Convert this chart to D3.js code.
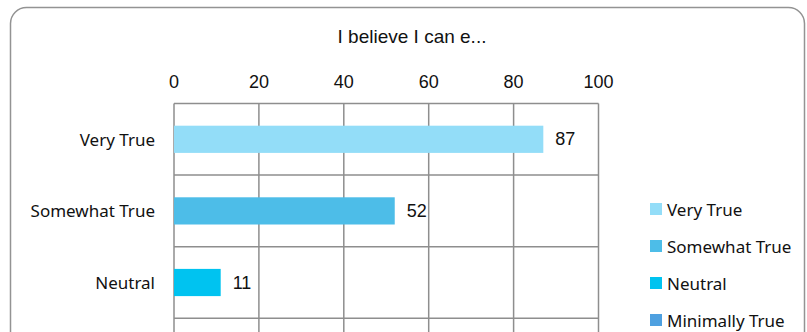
<!DOCTYPE html>
<html>
<head>
<meta charset="utf-8">
<script src="https://cdn.jsdelivr.net/npm/d3@7"></script>
<style>
  html, body { margin: 0; padding: 0; background: #fff; overflow: hidden; }
  svg { display: block; }
</style>
</head>
<body>
<div id="chart"></div>
<script>
// ---- data ----
const title = "I believe I can e...";
const categories = ["Very True", "Somewhat True", "Neutral", "Minimally True", "Not True"];
const values = [87, 52, 11, 4, 2];
const colors = ["#93ddf8", "#4dbde8", "#00c3f0", "#4ea0e0", "#2f75b5"];
const tickValues = [0, 20, 40, 60, 80, 100];

// ---- layout ----
const W = 807, H = 332;
const svg = d3.select("#chart").append("svg").attr("width", W).attr("height", H);

// outer frame
svg.append("rect")
  .attr("x", 10.5).attr("y", 7.5)
  .attr("width", 794).attr("height", 600)
  .attr("rx", 16).attr("ry", 16)
  .attr("fill", "#fff").attr("stroke", "#939393").attr("stroke-width", 1.5);

const x = d3.scaleLinear().domain([0, 100]).range([174, 598.5]);
const plotTop = 103.5;
const step = 71.6;
const y = d3.scaleBand().domain(categories)
  .range([plotTop, plotTop + step * categories.length])
  .paddingInner(0.62).paddingOuter(0.31);
const plotBottom = plotTop + step * categories.length;

const labelFont = "'Noto Sans', 'Open Sans', sans-serif";
const numFont = "'Liberation Sans', Arial, sans-serif";

// title
svg.append("text")
  .attr("x", 412).attr("y", 36)
  .attr("text-anchor", "middle").attr("dominant-baseline", "central")
  .attr("font-family", numFont).attr("font-size", 19).attr("fill", "#111")
  .text(title);

// top axis tick labels
svg.append("g").selectAll("text").data(tickValues).join("text")
  .attr("x", d => x(d)).attr("y", 82)
  .attr("text-anchor", "middle").attr("dominant-baseline", "central")
  .attr("font-family", numFont).attr("font-size", 18).attr("fill", "#111")
  .text(d => d);

// grid
const grid = svg.append("g").attr("stroke", "#8e8e8e").attr("stroke-width", 1.5);
grid.selectAll("line.v").data(tickValues).join("line")
  .attr("class", "v")
  .attr("x1", d => x(d)).attr("x2", d => x(d))
  .attr("y1", plotTop).attr("y2", plotBottom);
const bounds = categories.map((c, i) => plotTop + i * step).concat([plotBottom]);
grid.selectAll("line.h").data(bounds).join("line")
  .attr("class", "h")
  .attr("x1", x(0)).attr("x2", x(100))
  .attr("y1", d => d).attr("y2", d => d);

// bars
svg.append("g").selectAll("rect").data(values).join("rect")
  .attr("x", x(0))
  .attr("y", (d, i) => y(categories[i]))
  .attr("width", d => x(d) - x(0))
  .attr("height", y.bandwidth())
  .attr("fill", (d, i) => colors[i]);

// value labels
svg.append("g").selectAll("text").data(values).join("text")
  .attr("x", d => x(d) + 12)
  .attr("y", (d, i) => y(categories[i]) + y.bandwidth() / 2)
  .attr("dominant-baseline", "central")
  .attr("font-family", numFont).attr("font-size", 18).attr("fill", "#111")
  .text(d => d);

// category labels
svg.append("g").selectAll("text").data(categories).join("text")
  .attr("x", 155)
  .attr("y", d => y(d) + y.bandwidth() / 2)
  .attr("text-anchor", "end").attr("dominant-baseline", "central")
  .attr("font-family", labelFont).attr("font-size", 17).attr("fill", "#111")
  .text(d => d);

// legend
const legend = svg.append("g");
const lg = legend.selectAll("g").data(categories).join("g")
  .attr("transform", (d, i) => `translate(650, ${209 + i * 37})`);
lg.append("rect")
  .attr("x", 0).attr("y", -6).attr("width", 12).attr("height", 12)
  .attr("fill", (d, i) => colors[i]);
lg.append("text")
  .attr("x", 17).attr("y", 0)
  .attr("dominant-baseline", "central")
  .attr("font-family", labelFont).attr("font-size", 17).attr("fill", "#111")
  .text(d => d);
</script>
</body>
</html>
